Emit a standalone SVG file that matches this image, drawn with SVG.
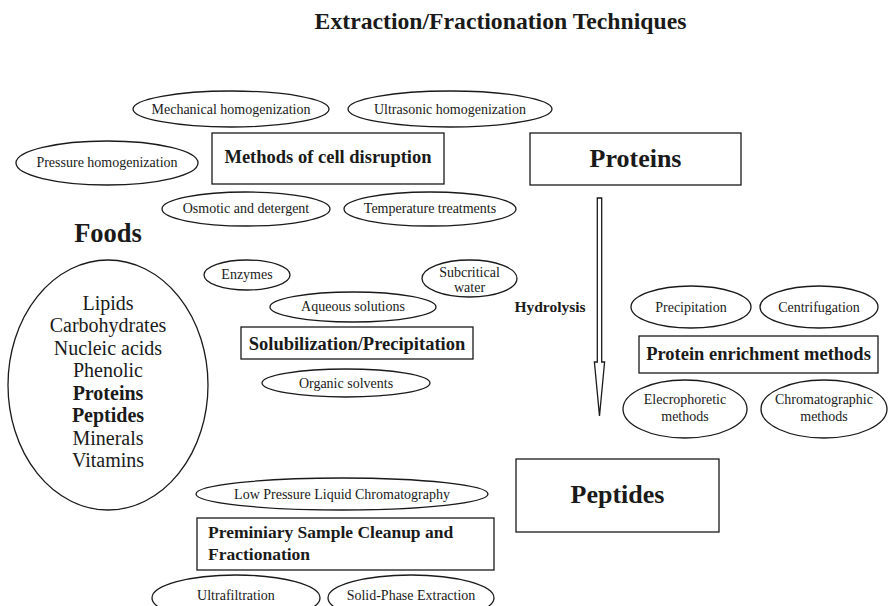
<svg xmlns="http://www.w3.org/2000/svg" width="889" height="606" viewBox="0 0 889 606">
<style>
text{font-family:"Liberation Serif","Times New Roman",serif;fill:#1a1a1a;text-anchor:middle}
.s{font-size:14px}
.b{font-weight:bold;font-size:18.5px}
.big{font-weight:bold;font-size:26px}
.f{font-size:20px}
ellipse,rect,polygon{fill:#fff;stroke:#1a1a1a;stroke-width:1.3}
</style>
<rect x="0" y="0" width="889" height="606" style="stroke:none"/>
<text x="500.5" y="28.5" style="font-weight:bold;font-size:23.7px">Extraction/Fractionation Techniques</text>

<g id="connectors">
<polygon points="597.3,198 601.7,198 601.7,362 604.6,362 599.5,416 594.4,362 597.3,362"/>
<text x="550" y="312" style="font-weight:bold;font-size:15.5px">Hydrolysis</text>
</g>

<g id="cell-disruption">
<rect x="212" y="133" width="232" height="51"/>
<text class="b" x="328" y="163">Methods of cell disruption</text>
</g>
<g id="mechanical"><ellipse cx="231" cy="109" rx="98" ry="18"/><text class="s" x="231" y="113.5">Mechanical homogenization</text></g>
<g id="ultrasonic"><ellipse cx="450" cy="109" rx="102" ry="18"/><text class="s" x="450" y="113.5">Ultrasonic homogenization</text></g>
<g id="pressure"><ellipse cx="107" cy="163" rx="91" ry="22"/><text class="s" x="107" y="167">Pressure homogenization</text></g>
<g id="osmotic"><ellipse cx="246" cy="209" rx="84" ry="17"/><text class="s" x="246" y="213">Osmotic and detergent</text></g>
<g id="temperature"><ellipse cx="430" cy="209" rx="86" ry="17"/><text class="s" x="430" y="213">Temperature treatments</text></g>

<g id="proteins">
<rect x="530" y="133" width="211" height="52"/>
<text class="big" x="635.5" y="167">Proteins</text>
</g>

<g id="foods">
<text x="108" y="242" style="font-weight:bold;font-size:26.5px">Foods</text>
<ellipse cx="108" cy="385" rx="100" ry="125"/>
<text class="f" x="108" y="309.5">Lipids</text>
<text class="f" x="108" y="332">Carbohydrates</text>
<text class="f" x="108" y="354.5">Nucleic acids</text>
<text class="f" x="108" y="377">Phenolic</text>
<text class="f" x="108" y="399.5" font-weight="bold">Proteins</text>
<text class="f" x="108" y="422" font-weight="bold">Peptides</text>
<text class="f" x="108" y="444.5">Minerals</text>
<text class="f" x="108" y="467">Vitamins</text>
</g>

<g id="enzymes"><ellipse cx="247" cy="275" rx="43" ry="15"/><text class="s" x="247" y="279">Enzymes</text></g>
<g id="subcritical"><ellipse cx="469.5" cy="278.5" rx="47.5" ry="18.5"/><text class="s" x="469.5" y="277">Subcritical</text><text class="s" x="469.5" y="292">water</text></g>
<g id="aqueous"><ellipse cx="353" cy="307" rx="83" ry="15"/><text class="s" x="353" y="311">Aqueous solutions</text></g>
<g id="solubilization">
<rect x="241" y="327" width="232" height="32"/>
<text class="b" x="357" y="350">Solubilization/Precipitation</text>
</g>
<g id="organic"><ellipse cx="346" cy="383" rx="84" ry="14"/><text class="s" x="346" y="387.5">Organic solvents</text></g>

<g id="precipitation"><ellipse cx="691" cy="307" rx="60" ry="21"/><text class="s" x="691" y="311.5">Precipitation</text></g>
<g id="centrifugation"><ellipse cx="819" cy="307" rx="59" ry="21"/><text class="s" x="819" y="311.5">Centrifugation</text></g>
<g id="enrichment">
<rect x="639" y="336" width="239" height="37"/>
<text class="b" x="758.5" y="360">Protein enrichment methods</text>
</g>
<g id="electrophoretic"><ellipse cx="685" cy="409" rx="62" ry="29"/><text class="s" x="685" y="404">Elecrophoretic</text><text class="s" x="685" y="421">methods</text></g>
<g id="chromatographic"><ellipse cx="824" cy="409" rx="63" ry="29"/><text class="s" x="824" y="404">Chromatographic</text><text class="s" x="824" y="421">methods</text></g>

<g id="peptides">
<rect x="516" y="459" width="203" height="73"/>
<text class="big" x="617.5" y="503">Peptides</text>
</g>

<g id="lowpressure"><ellipse cx="342" cy="494" rx="146" ry="16"/><text class="s" x="342" y="498.5">Low Pressure Liquid Chromatography</text></g>
<g id="cleanup">
<rect x="197" y="518" width="297" height="52"/>
<text x="208" y="538" style="font-weight:bold;font-size:17.5px;text-anchor:start">Preminiary Sample Cleanup and</text>
<text x="208" y="560" style="font-weight:bold;font-size:17.5px;text-anchor:start">Fractionation</text>
</g>
<g id="ultrafiltration"><ellipse cx="236" cy="598" rx="84" ry="23"/><text class="s" x="236" y="600">Ultrafiltration</text></g>
<g id="spe"><ellipse cx="411" cy="598" rx="83" ry="23"/><text class="s" x="411" y="600">Solid-Phase Extraction</text></g>
</svg>
